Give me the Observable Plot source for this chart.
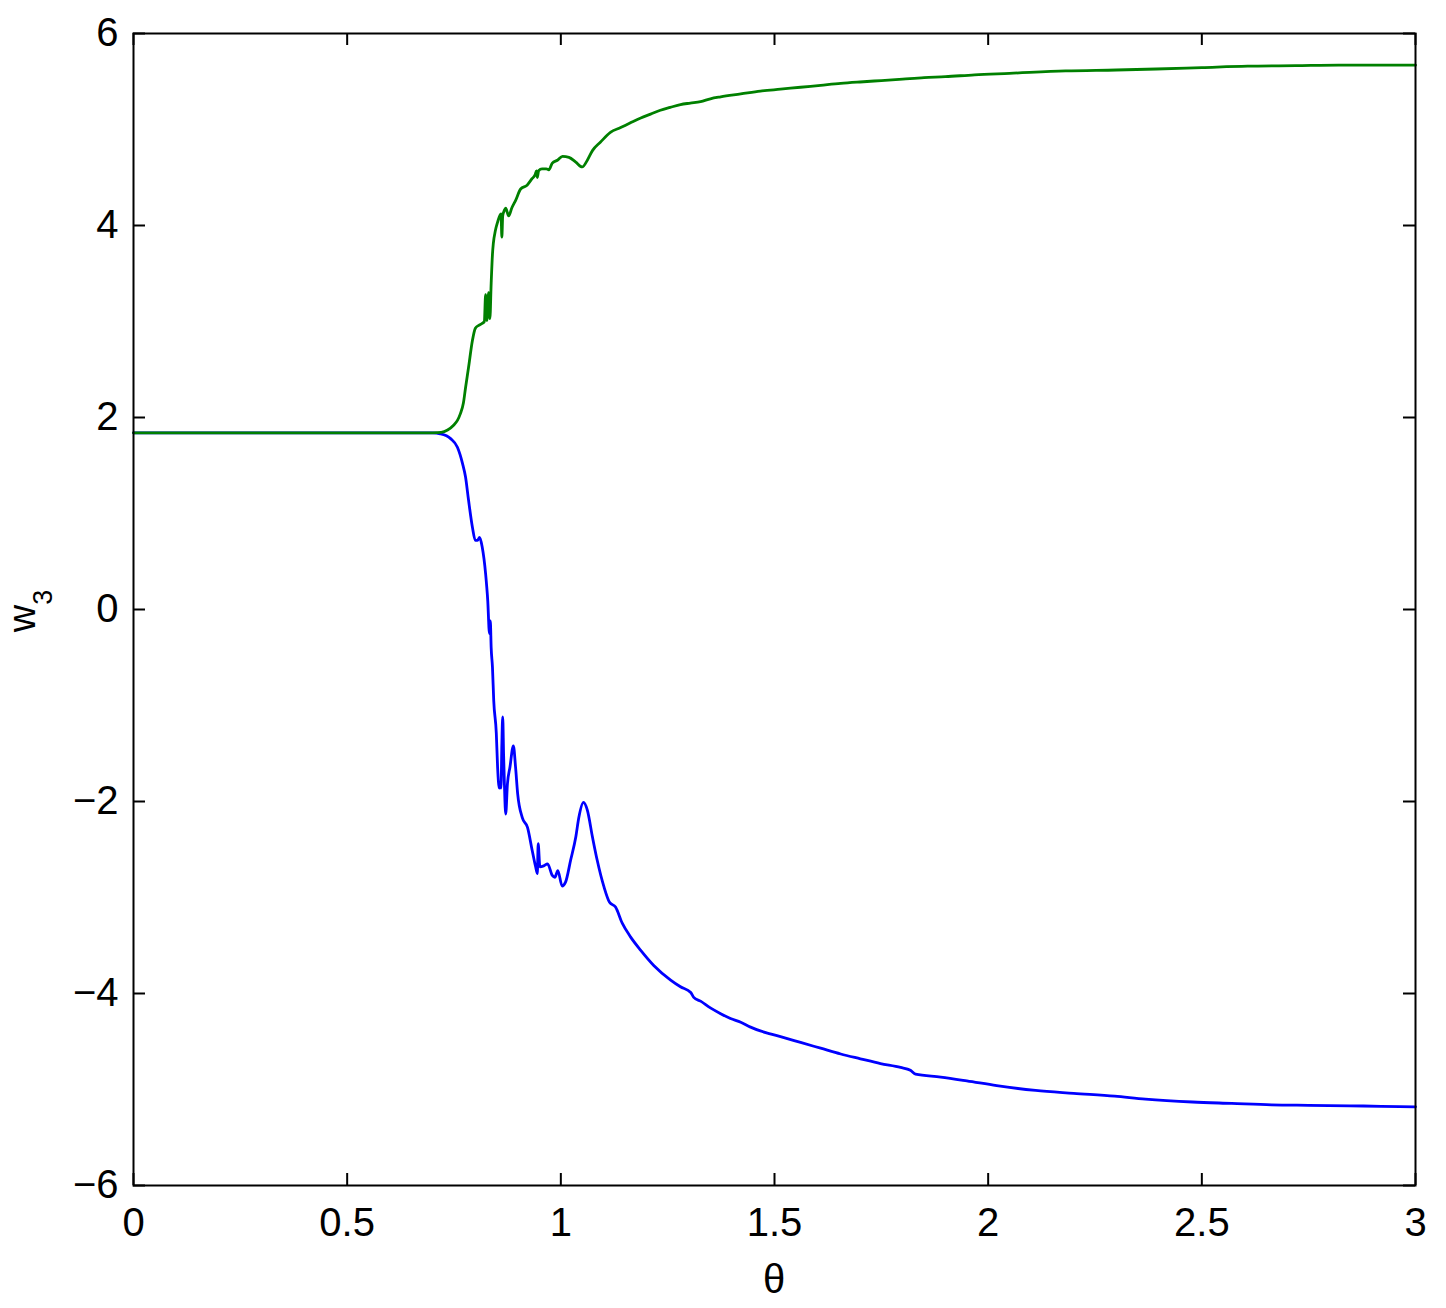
<!DOCTYPE html>
<html><head><meta charset="utf-8">
<script src="https://cdn.jsdelivr.net/npm/d3@7"></script>
<script src="https://cdn.jsdelivr.net/npm/@observablehq/plot@0.6"></script>
<style>body{margin:0;background:#fff}</style>
</head><body><div id="chart"></div>
<script>
const thetaGreen = [0,0.5,0.70,0.72,0.735,0.749,0.758,0.765,0.772,0.777,0.784,0.793,0.800,0.808,0.816,0.821,0.824,0.827,0.831,0.834,0.837,0.840,0.842,0.847,0.851,0.857,0.860,0.862,0.864,0.868,0.871,0.878,0.885,0.894,0.906,0.921,0.933,0.940,0.943,0.945,0.948,0.956,0.966,0.972,0.980,0.992,1.004,1.019,1.035,1.050,1.062,1.074,1.093,1.116,1.140,1.163,1.187,1.210,1.233,1.256,1.280,1.303,1.327,1.350,1.374,1.421,1.467,1.514,1.561,1.608,1.655,1.70,1.75,1.80,1.85,1.90,1.968,2.05,2.181,2.30,2.394,2.50,2.607,2.72,2.820,2.92,3.0];
const wGreen = [1.84,1.84,1.84,1.845,1.87,1.92,1.97,2.04,2.15,2.31,2.52,2.80,2.93,2.96,2.98,3.00,3.28,3.01,3.30,3.03,3.40,3.70,3.81,3.95,4.02,4.10,4.12,3.88,4.10,4.16,4.18,4.10,4.18,4.26,4.38,4.42,4.49,4.53,4.57,4.50,4.57,4.59,4.59,4.58,4.65,4.68,4.72,4.71,4.66,4.61,4.68,4.78,4.87,4.97,5.02,5.07,5.12,5.16,5.20,5.23,5.26,5.275,5.29,5.32,5.34,5.37,5.40,5.42,5.44,5.46,5.48,5.495,5.51,5.525,5.54,5.55,5.57,5.585,5.61,5.62,5.63,5.645,5.66,5.665,5.67,5.67,5.67];
const thetaBlue = [0,0.5,0.70,0.718,0.742,0.758,0.770,0.777,0.784,0.793,0.800,0.805,0.810,0.816,0.824,0.829,0.833,0.835,0.837,0.840,0.843,0.849,0.852,0.856,0.858,0.860,0.862,0.864,0.866,0.868,0.871,0.875,0.881,0.889,0.894,0.899,0.910,0.922,0.933,0.941,0.945,0.947,0.951,0.960,0.969,0.980,0.986,0.993,1.003,1.011,1.023,1.035,1.042,1.053,1.062,1.074,1.085,1.101,1.114,1.128,1.144,1.163,1.187,1.218,1.257,1.280,1.304,1.311,1.327,1.350,1.374,1.397,1.421,1.444,1.467,1.490,1.514,1.561,1.608,1.655,1.701,1.748,1.795,1.818,1.830,1.889,1.95,2.02,2.111,2.20,2.296,2.368,2.478,2.57,2.663,2.75,2.846,2.92,3.0];
const wBlue = [1.84,1.84,1.84,1.83,1.78,1.69,1.52,1.38,1.14,0.86,0.72,0.72,0.75,0.65,0.37,0.09,-0.25,-0.12,-0.40,-0.60,-0.95,-1.29,-1.64,-1.86,-1.80,-1.86,-1.40,-1.12,-1.50,-1.82,-2.13,-1.82,-1.64,-1.42,-1.64,-1.92,-2.17,-2.27,-2.51,-2.68,-2.75,-2.44,-2.68,-2.67,-2.65,-2.77,-2.79,-2.72,-2.88,-2.84,-2.61,-2.37,-2.17,-2.01,-2.09,-2.37,-2.61,-2.89,-3.05,-3.10,-3.27,-3.41,-3.55,-3.71,-3.86,-3.93,-3.99,-4.04,-4.08,-4.15,-4.21,-4.26,-4.30,-4.35,-4.39,-4.42,-4.45,-4.51,-4.57,-4.63,-4.68,-4.73,-4.77,-4.80,-4.84,-4.87,-4.91,-4.96,-5.01,-5.04,-5.07,-5.10,-5.13,-5.145,-5.16,-5.165,-5.17,-5.175,-5.18];
const xTicks = [0,0.5,1,1.5,2,2.5,3];
const yTicks = [-6,-4,-2,0,2,4,6];
const xLabel = "θ";
const yLabel = "w";
const yLabelSub = "3";

const green = thetaGreen.map((t, i) => ({theta: t, w: wGreen[i]}));
const blue = thetaBlue.map((t, i) => ({theta: t, w: wBlue[i]}));

const W = 1446, H = 1308, mL = 133, mR = 31, mT = 33, mB = 123;
const plotW = W - mL - mR, plotH = H - mT - mB, tick = 12;
const fmt = d => (d < 0 ? "\u2212" : "") + Math.abs(d);
const tickStyle = {stroke: "#000", strokeWidth: 2};

const chart = Plot.plot({
  width: W, height: H,
  marginLeft: mL, marginRight: mR, marginTop: mT, marginBottom: mB,
  style: {fontFamily: "'Liberation Sans', Arial, sans-serif", fontSize: "40px", background: "#fff", color: "#000"},
  x: {domain: [0, 3]},
  y: {domain: [-6, 6]},
  marks: [
    Plot.line(blue, {x: "theta", y: "w", stroke: "#0000ff", strokeWidth: 2.8, curve: "monotone-x"}),
    Plot.line(green, {x: "theta", y: "w", stroke: "#008000", strokeWidth: 2.8, curve: "monotone-x"}),
    Plot.frame({stroke: "#000", strokeWidth: 2}),
    Plot.ruleX(xTicks, {x: d => d, insetTop: plotH - tick, ...tickStyle}),
    Plot.ruleX(xTicks, {x: d => d, insetBottom: plotH - tick, ...tickStyle}),
    Plot.ruleY(yTicks, {y: d => d, insetRight: plotW - tick, ...tickStyle}),
    Plot.ruleY(yTicks, {y: d => d, insetLeft: plotW - tick, ...tickStyle}),
    Plot.axisX({ticks: xTicks, anchor: "bottom", tickSize: 0, tickPadding: 22, tickFormat: fmt, label: null, fontSize: 40}),
    Plot.axisY({ticks: yTicks, anchor: "left", tickSize: 0, tickPadding: 15, tickFormat: fmt, label: null, fontSize: 40})
  ]
});
document.getElementById("chart").appendChild(chart);

const svg = d3.select(chart);
svg.append("text")
  .attr("x", mL + plotW / 2).attr("y", 1293)
  .attr("text-anchor", "middle").attr("font-size", 40).attr("fill", "#000")
  .text(xLabel);
const yl = svg.append("text")
  .attr("transform", `translate(35,${mT + plotH / 2 + 2}) rotate(-90)`)
  .attr("text-anchor", "middle").attr("font-size", 38).attr("fill", "#000");
yl.append("tspan").text(yLabel);
yl.append("tspan").attr("dy", 17).attr("font-size", 27).text(yLabelSub);
</script>
</body></html>
